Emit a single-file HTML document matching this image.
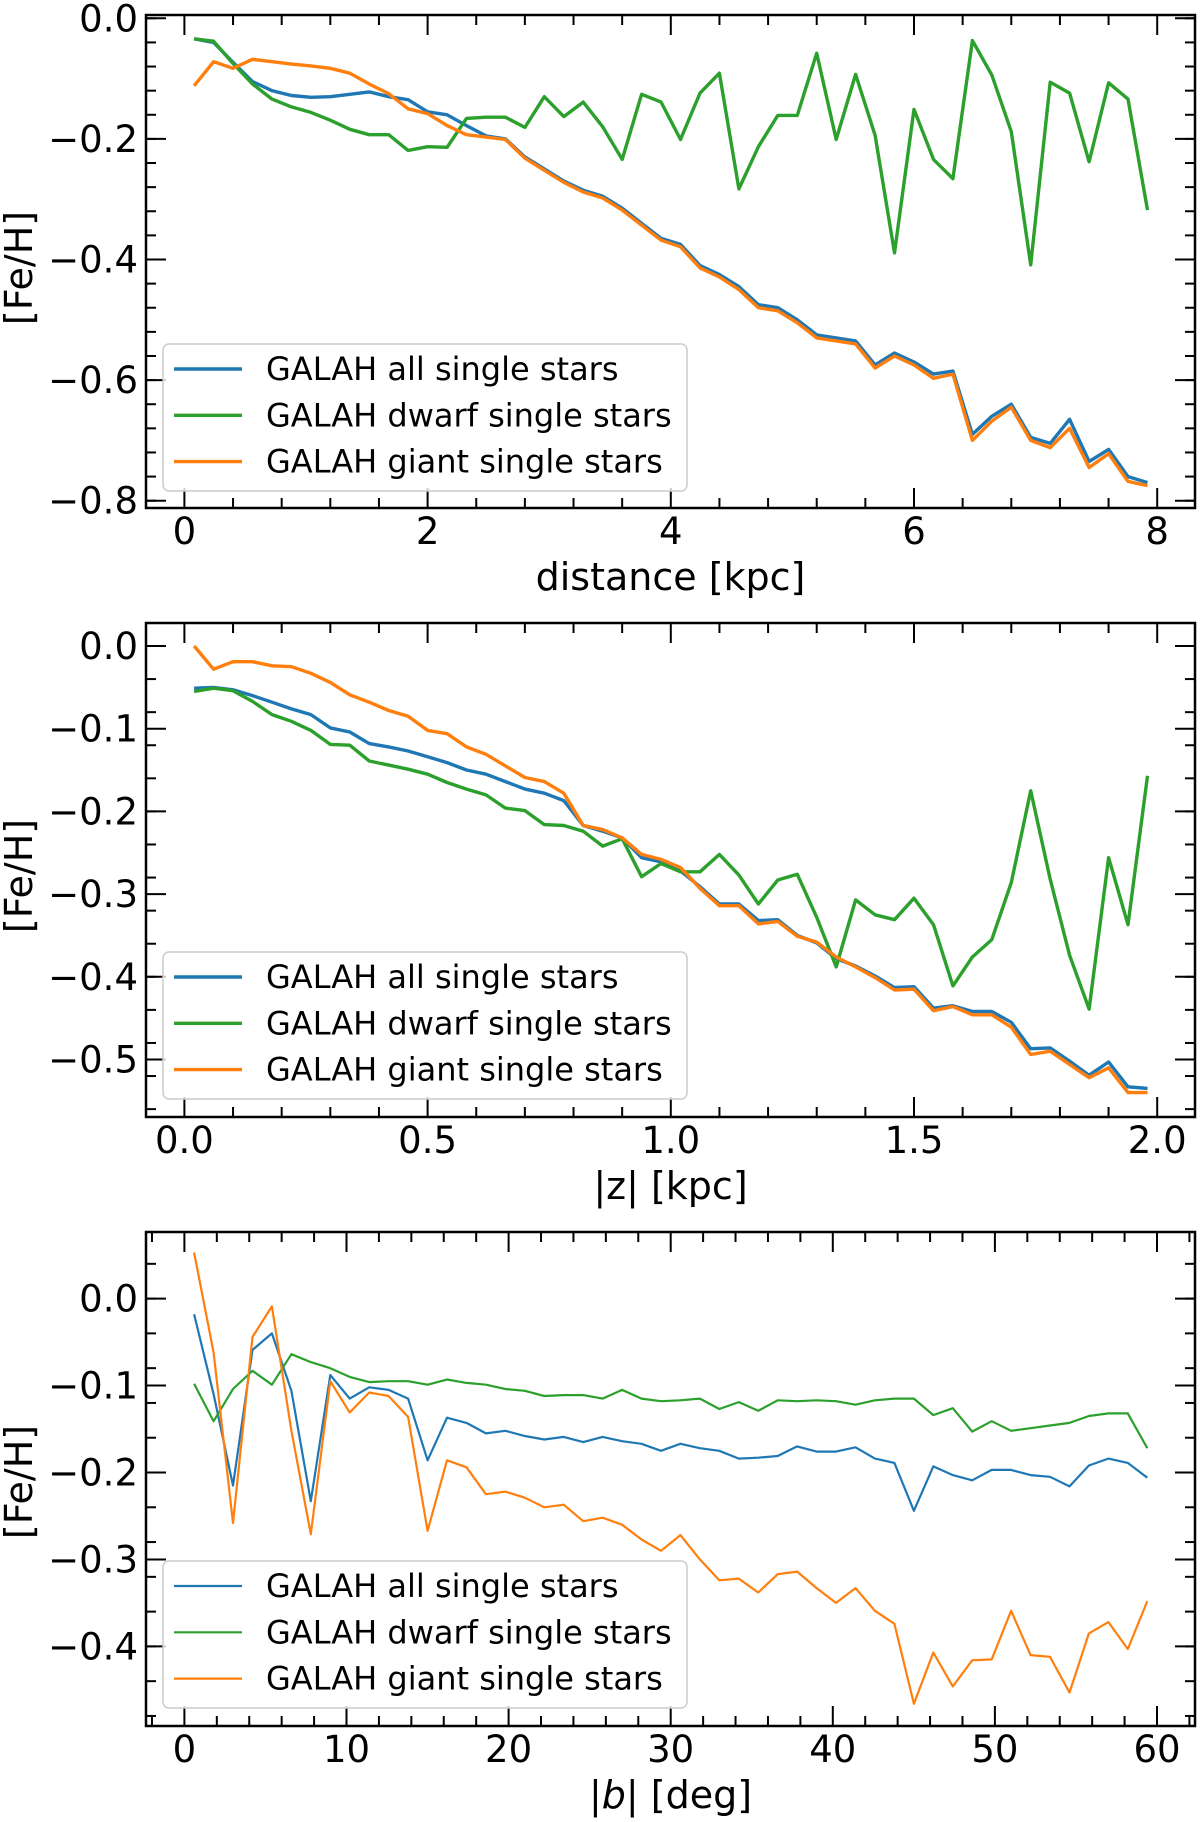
<!DOCTYPE html>
<html><head><meta charset="utf-8">
<style>
html,body{margin:0;padding:0;background:#fff;}
svg{display:block;font-family:"DejaVu Sans","Liberation Sans",sans-serif;}
</style></head>
<body>
<svg id="fig" width="1200" height="1822" viewBox="0 0 1200 1822" xmlns="http://www.w3.org/2000/svg"></svg>
<script>
// ---------- Panel 1: distance ----------
const distX = [0.08,0.24,0.40,0.56,0.72,0.88,1.04,1.20,1.36,1.52,1.68,1.84,2.00,2.16,2.32,2.48,2.64,2.80,2.96,3.12,3.28,3.44,3.60,3.76,3.92,4.08,4.24,4.40,4.56,4.72,4.88,5.04,5.20,5.36,5.52,5.68,5.84,6.00,6.16,6.32,6.48,6.64,6.80,6.96,7.12,7.28,7.44,7.60,7.76,7.92];
const distAll = [-0.034,-0.040,-0.073,-0.105,-0.120,-0.128,-0.131,-0.130,-0.126,-0.122,-0.130,-0.135,-0.155,-0.160,-0.178,-0.195,-0.200,-0.230,-0.250,-0.270,-0.285,-0.295,-0.315,-0.340,-0.365,-0.375,-0.410,-0.425,-0.445,-0.475,-0.480,-0.500,-0.525,-0.530,-0.535,-0.575,-0.555,-0.570,-0.590,-0.585,-0.690,-0.660,-0.640,-0.695,-0.705,-0.665,-0.735,-0.715,-0.760,-0.770];
const distDwarf = [-0.034,-0.038,-0.075,-0.109,-0.134,-0.147,-0.156,-0.169,-0.184,-0.193,-0.193,-0.219,-0.213,-0.214,-0.166,-0.164,-0.164,-0.181,-0.130,-0.163,-0.139,-0.180,-0.234,-0.126,-0.139,-0.201,-0.124,-0.091,-0.283,-0.213,-0.161,-0.161,-0.058,-0.201,-0.093,-0.194,-0.389,-0.151,-0.234,-0.266,-0.037,-0.094,-0.188,-0.409,-0.106,-0.124,-0.238,-0.107,-0.134,-0.318];
const distGiant = [-0.112,-0.072,-0.083,-0.068,-0.072,-0.076,-0.079,-0.083,-0.091,-0.109,-0.125,-0.150,-0.158,-0.178,-0.193,-0.197,-0.201,-0.232,-0.252,-0.272,-0.288,-0.298,-0.318,-0.343,-0.368,-0.379,-0.414,-0.429,-0.450,-0.480,-0.485,-0.505,-0.530,-0.535,-0.540,-0.580,-0.560,-0.575,-0.597,-0.590,-0.700,-0.668,-0.645,-0.700,-0.712,-0.680,-0.745,-0.722,-0.768,-0.775];
const distXTicks = [0,2,4,6,8];
const distXTickLabels = ["0","2","4","6","8"];
const distYTicks = [0,-0.2,-0.4,-0.6,-0.8];
const distYTickLabels = ["0.0","−0.2","−0.4","−0.6","−0.8"];

// ---------- Panel 2: |z| ----------
const zX = [0.02,0.06,0.10,0.14,0.18,0.22,0.26,0.30,0.34,0.38,0.42,0.46,0.50,0.54,0.58,0.62,0.66,0.70,0.74,0.78,0.82,0.86,0.90,0.94,0.98,1.02,1.06,1.10,1.14,1.18,1.22,1.26,1.30,1.34,1.38,1.42,1.46,1.50,1.54,1.58,1.62,1.66,1.70,1.74,1.78,1.82,1.86,1.90,1.94,1.98];
const zAll = [-0.051,-0.050,-0.053,-0.060,-0.068,-0.076,-0.083,-0.099,-0.104,-0.118,-0.122,-0.127,-0.134,-0.141,-0.150,-0.155,-0.164,-0.173,-0.178,-0.187,-0.217,-0.224,-0.232,-0.256,-0.261,-0.272,-0.291,-0.312,-0.312,-0.332,-0.331,-0.350,-0.359,-0.378,-0.387,-0.399,-0.413,-0.412,-0.438,-0.435,-0.442,-0.442,-0.455,-0.487,-0.486,-0.502,-0.519,-0.503,-0.533,-0.535];
const zDwarf = [-0.055,-0.051,-0.054,-0.067,-0.083,-0.091,-0.102,-0.119,-0.120,-0.139,-0.144,-0.149,-0.155,-0.165,-0.173,-0.180,-0.196,-0.199,-0.216,-0.217,-0.224,-0.242,-0.233,-0.279,-0.263,-0.273,-0.273,-0.252,-0.277,-0.312,-0.283,-0.276,-0.328,-0.388,-0.307,-0.325,-0.331,-0.305,-0.337,-0.411,-0.376,-0.355,-0.286,-0.175,-0.282,-0.374,-0.439,-0.256,-0.337,-0.157];
const zGiant = [0.000,-0.028,-0.019,-0.019,-0.024,-0.025,-0.033,-0.044,-0.059,-0.068,-0.078,-0.085,-0.102,-0.106,-0.122,-0.131,-0.145,-0.159,-0.164,-0.178,-0.217,-0.222,-0.232,-0.252,-0.258,-0.268,-0.293,-0.314,-0.314,-0.336,-0.333,-0.351,-0.358,-0.376,-0.388,-0.401,-0.416,-0.415,-0.441,-0.436,-0.446,-0.446,-0.461,-0.494,-0.490,-0.506,-0.522,-0.510,-0.540,-0.540];
const zXTicks = [0,0.5,1,1.5,2];
const zXTickLabels = ["0.0","0.5","1.0","1.5","2.0"];
const zYTicks = [0,-0.1,-0.2,-0.3,-0.4,-0.5];
const zYTickLabels = ["0.0","−0.1","−0.2","−0.3","−0.4","−0.5"];

// ---------- Panel 3: |b| ----------
const bX = [0.6,1.8,3.0,4.2,5.4,6.6,7.8,9.0,10.2,11.4,12.6,13.8,15.0,16.2,17.4,18.6,19.8,21.0,22.2,23.4,24.6,25.8,27.0,28.2,29.4,30.6,31.8,33.0,34.2,35.4,36.6,37.8,39.0,40.2,41.4,42.6,43.8,45.0,46.2,47.4,48.6,49.8,51.0,52.2,53.4,54.6,55.8,57.0,58.2,59.4];
const bAll = [-0.018,-0.110,-0.215,-0.059,-0.040,-0.106,-0.233,-0.088,-0.115,-0.102,-0.105,-0.115,-0.186,-0.137,-0.143,-0.155,-0.152,-0.158,-0.162,-0.159,-0.165,-0.159,-0.164,-0.167,-0.175,-0.167,-0.172,-0.175,-0.184,-0.183,-0.181,-0.170,-0.176,-0.176,-0.171,-0.184,-0.189,-0.244,-0.193,-0.203,-0.209,-0.197,-0.197,-0.203,-0.205,-0.216,-0.192,-0.184,-0.189,-0.206];
const bDwarf = [-0.098,-0.141,-0.104,-0.083,-0.099,-0.064,-0.073,-0.080,-0.090,-0.096,-0.095,-0.095,-0.099,-0.093,-0.097,-0.099,-0.104,-0.106,-0.112,-0.111,-0.111,-0.115,-0.105,-0.115,-0.118,-0.117,-0.115,-0.127,-0.119,-0.129,-0.117,-0.118,-0.117,-0.118,-0.122,-0.117,-0.115,-0.115,-0.134,-0.126,-0.153,-0.141,-0.152,-0.149,-0.146,-0.143,-0.135,-0.132,-0.132,-0.172];
const bGiant = [0.053,-0.062,-0.258,-0.044,-0.009,-0.152,-0.271,-0.095,-0.131,-0.108,-0.112,-0.136,-0.267,-0.186,-0.194,-0.225,-0.222,-0.229,-0.240,-0.237,-0.256,-0.252,-0.260,-0.277,-0.290,-0.272,-0.300,-0.324,-0.322,-0.338,-0.317,-0.314,-0.333,-0.350,-0.333,-0.359,-0.374,-0.466,-0.407,-0.446,-0.416,-0.415,-0.359,-0.410,-0.412,-0.453,-0.385,-0.372,-0.403,-0.348];
const bXTicks = [0,10,20,30,40,50,60];
const bXTickLabels = ["0","10","20","30","40","50","60"];
const bYTicks = [0,-0.1,-0.2,-0.3,-0.4];
const bYTickLabels = ["0.0","−0.1","−0.2","−0.3","−0.4"];

const legendLabels = ["GALAH all single stars","GALAH dwarf single stars","GALAH giant single stars"];

const NS = "http://www.w3.org/2000/svg";
const fig = document.getElementById('fig');
function mk(tag, parent, attrs){
  const e = document.createElementNS(NS, tag);
  for (const k in attrs) e.setAttribute(k, attrs[k]);
  parent.appendChild(e);
  return e;
}
const C = {all:"#1f77b4", dwarf:"#2ca02c", giant:"#ff7f0e"};

function panel(cfg){
  const g = mk('g', fig, {});
  
  
  const L=146, R=1195, T=cfg.top, B=cfg.bottom;
  const sx = v => cfg.x0px + (v - cfg.xA) * cfg.xScale;
  const sy = v => cfg.y0px - (v - cfg.yA) * cfg.yScale;
  const xmin = cfg.xA + (L - cfg.x0px)/cfg.xScale, xmax = cfg.xA + (R - cfg.x0px)/cfg.xScale;
  const ymax = cfg.yA + (cfg.y0px - T)/cfg.yScale, ymin = cfg.yA + (cfg.y0px - B)/cfg.yScale;
  const clipId = cfg.name + '-clip';
  const defs = mk('defs', g, {});
  const cp = mk('clipPath', defs, {id: clipId});
  mk('rect', cp, {x:L, y:T, width:R-L, height:B-T});
  const series = [[cfg.all, C.all, 'series-all'],[cfg.dwarf, C.dwarf, 'series-dwarf'],[cfg.giant, C.giant, 'series-giant']];
  series.forEach(s => {
    const pts = cfg.xs.map((x,i) => sx(x).toFixed(1)+','+sy(s[0][i]).toFixed(1)).join(' ');
    const pl = mk('polyline', g, {points: pts, fill:'none', stroke:s[1], 'stroke-width':cfg.lw, 'stroke-linejoin':'round', 'clip-path':'url(#'+clipId+')'});
    
    
  });
  const tk = mk('g', g, {stroke:'#000', 'stroke-width':2});
  
  
  const eps = 1e-9;
  for (let v = Math.ceil(xmin/cfg.xMinor)*cfg.xMinor; v <= xmax+eps; v += cfg.xMinor){
    const px = sx(v);
    const isMaj = Math.abs(v/cfg.xMajor - Math.round(v/cfg.xMajor)) < 1e-6;
    const len = isMaj ? 20 : 10;
    mk('line', tk, {x1:px, x2:px, y1:B, y2:B-len});
    mk('line', tk, {x1:px, x2:px, y1:T, y2:T+len});
  }
  for (let v = Math.ceil(ymin/cfg.yMinor)*cfg.yMinor; v <= ymax+eps; v += cfg.yMinor){
    const py = sy(v);
    mk('line', tk, {x1:L, x2:L+10, y1:py, y2:py});
    mk('line', tk, {x1:R, x2:R-10, y1:py, y2:py});
  }
  cfg.yTicks.forEach((v,i) => {
    const py = sy(v);
    mk('line', tk, {x1:L, x2:L+20, y1:py, y2:py});
    mk('line', tk, {x1:R, x2:R-20, y1:py, y2:py});
    const t = mk('text', g, {x:138, y:py+13, 'text-anchor':'end', 'font-size':37, fill:'#000'});
    t.textContent = cfg.yTickLabels[i];
    
    
  });
  cfg.xTicks.forEach((v,i) => {
    const t = mk('text', g, {x:sx(v), y:B+36, 'text-anchor':'middle', 'font-size':37, fill:'#000'});
    t.textContent = cfg.xTickLabels[i];
    
    
  });
  const fr = mk('rect', g, {x:L, y:T, width:R-L, height:B-T, fill:'none', stroke:'#000', 'stroke-width':2.5});
  
  
  const xl = mk('text', g, {x:(L+R)/2, y:B+82, 'text-anchor':'middle', 'font-size':38, fill:'#000'});
  xl.innerHTML = cfg.xLabel;
  
  
  const ycy = cfg.yLabelY;
  const yl = mk('text', g, {x:0, y:0, 'text-anchor':'middle', 'font-size':38, fill:'#000', transform:'translate(32,'+ycy+') rotate(-90)'});
  yl.textContent = '[Fe/H]';
  
  
  const lg = mk('g', g, {});
  
  
  mk('rect', lg, {x:163, y:cfg.legTop, width:524, height:147, rx:6, fill:'#fff', 'fill-opacity':0.8, stroke:'#cccccc', 'stroke-width':1.5});
  const cols = [C.all, C.dwarf, C.giant];
  legendLabels.forEach((lab,i) => {
    const yy = cfg.legTop + 25 + i*46.3;
    const e = mk('g', lg, {});
    
    
    mk('line', e, {x1:174, x2:242, y1:yy, y2:yy, stroke:cols[i], 'stroke-width':cfg.lw});
    const t = mk('text', e, {x:266, y:yy+11, 'font-size':32, fill:'#000'});
    t.textContent = lab;
  });
}

panel({name:'distance-panel', top:15, bottom:508, xs:distX, all:distAll, dwarf:distDwarf, giant:distGiant,
  x0px:184.4, xA:0, xScale:121.6, y0px:500.7, yA:-0.8, yScale:603,
  xMajor:2, xMinor:0.4, yMinor:0.04, xTicks:distXTicks, xTickLabels:distXTickLabels,
  yTicks:distYTicks, yTickLabels:distYTickLabels, xLabel:'distance [kpc]', yLabelY:268, legTop:344, lw:3.4});
panel({name:'z-panel', top:623, bottom:1117, xs:zX, all:zAll, dwarf:zDwarf, giant:zGiant,
  x0px:184.4, xA:0, xScale:486.4, y0px:646, yA:0, yScale:827,
  xMajor:0.5, xMinor:0.1, yMinor:0.04, xTicks:zXTicks, xTickLabels:zXTickLabels,
  yTicks:zYTicks, yTickLabels:zYTickLabels, xLabel:'|z| [kpc]', yLabelY:876, legTop:952, lw:3.4});
panel({name:'b-panel', top:1232, bottom:1726, xs:bX, all:bAll, dwarf:bDwarf, giant:bGiant,
  x0px:184.4, xA:0, xScale:16.21, y0px:1298.6, yA:0, yScale:869.5,
  xMajor:10, xMinor:2, yMinor:0.04, xTicks:bXTicks, xTickLabels:bXTickLabels,
  yTicks:bYTicks, yTickLabels:bYTickLabels, xLabel:'|<tspan font-style="italic">b</tspan>| [deg]', yLabelY:1482, legTop:1561, lw:2.2});
</script>
</body></html>
